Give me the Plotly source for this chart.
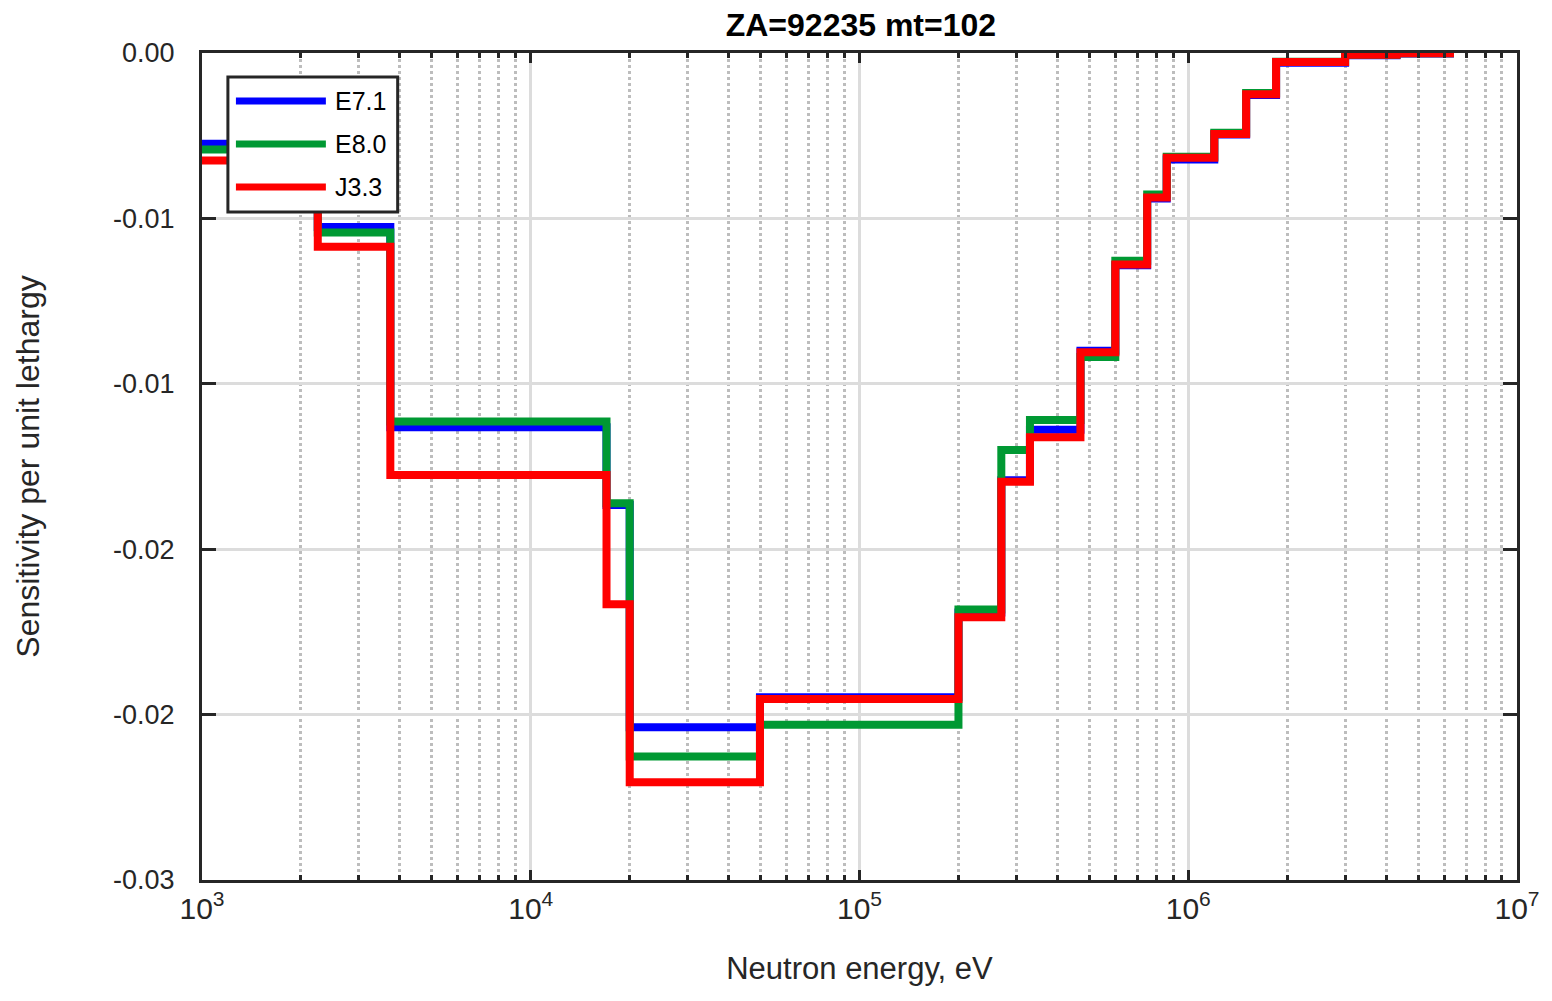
import plotly.graph_objects as go

# Group boundaries (eV)
edges = [1e3, 2.25e3, 3.74e3, 1.7e4, 2.0e4, 4.98e4, 2.0e5, 2.7e5, 3.3e5, 4.7e5,
         6.0e5, 7.5e5, 8.6e5, 1.2e6, 1.5e6, 1.85e6, 3.0e6, 4.3e6, 6.43e6]

series_names = ["E7.1", "E8.0", "J3.3"]
series_colors = ["#0000FF", "#009933", "#FF0000"]

e71 = [-0.00329, -0.00631, -0.01358, -0.0164, -0.02446, -0.02337, -0.0203, -0.0155,
       -0.01367, -0.0108, -0.0077, -0.00528, -0.00386, -0.00296, -0.00152, -0.00035,
       -0.00008, -0.00002]
e80 = [-0.0035, -0.00651, -0.01337, -0.01633, -0.02552, -0.02437, -0.02019, -0.0144,
       -0.01331, -0.01103, -0.00754, -0.00513, -0.00376, -0.00289, -0.00145, -0.00032,
       -0.00006, -0.00001]
j33 = [-0.0039, -0.00703, -0.01531, -0.02, -0.02645, -0.02343, -0.02047, -0.01555,
       -0.01394, -0.01086, -0.00767, -0.00524, -0.0038, -0.00294, -0.0015, -0.00033,
       -0.00006, -0.00001]

ytick_vals = [0, -0.006, -0.012, -0.018, -0.024, -0.03]
ytick_text = ["0.00", "-0.01", "-0.01", "-0.02", "-0.02", "-0.03"]
xtick_vals = [1e3, 1e4, 1e5, 1e6, 1e7]
xtick_text = ["10<sup>3</sup>", "10<sup>4</sup>", "10<sup>5</sup>", "10<sup>6</sup>", "10<sup>7</sup>"]

FONT = "Liberation Sans, Arial, sans-serif"
AX = "#262626"

fig = go.Figure()
for name, color, vals in zip(series_names, series_colors, [e71, e80, j33]):
    fig.add_trace(go.Scatter(
        x=edges, y=vals + [vals[-1]], mode="lines", name=name,
        line=dict(color=color, width=8, shape="hv"), showlegend=False,
    ))

# custom legend box (long line samples as in the reference)
shapes = [dict(type="rect", xref="paper", yref="paper", x0=0.0197, x1=0.1488,
               y0=0.8077, y1=0.971, line=dict(color=AX, width=3), fillcolor="white",
               layer="above")]
annotations = []
rows = [0.942, 0.890, 0.838]
for name, color, yy in zip(series_names, series_colors, rows):
    shapes.append(dict(type="line", xref="paper", yref="paper", x0=0.0258, x1=0.0942,
                       y0=yy, y1=yy, line=dict(color=color, width=7), layer="above"))
    annotations.append(dict(xref="paper", yref="paper", x=0.0995, y=yy, text=name,
                            showarrow=False, xanchor="left", yanchor="middle",
                            font=dict(family=FONT, size=25, color="black")))

fig.update_layout(
    width=1544, height=993,
    margin=dict(l=194, r=33, t=45, b=121),
    paper_bgcolor="white", plot_bgcolor="white",
    title=dict(text="<b>ZA=92235 mt=102</b>", x=0.5524, xanchor="center",
               y=0.983, yanchor="middle", yref="container",
               font=dict(family=FONT, size=32, color="black")),
    shapes=shapes, annotations=annotations,
    font=dict(family=FONT, color="#262626"),
)

fig.update_xaxes(
    type="log", range=[3, 7],
    tickmode="array", tickvals=xtick_vals, ticktext=xtick_text,
    tickfont=dict(family=FONT, size=30, color="#262626"),
    showline=True, linecolor=AX, linewidth=3, mirror="ticks",
    ticks="inside", ticklen=10, tickwidth=3, tickcolor=AX,
    showgrid=True, gridcolor="#dcdcdc", gridwidth=3,
    zeroline=False,
    minor=dict(ticks="inside", ticklen=5, tickwidth=3, tickcolor=AX,
               showgrid=True, gridcolor="#bdbdbd", gridwidth=3, griddash="dot",
               dtick="D1"),
    title=dict(text="Neutron energy, eV", standoff=34,
               font=dict(family=FONT, size=31, color="#262626")),
)
fig.update_yaxes(
    range=[-0.03, 0],
    tickmode="array", tickvals=ytick_vals, ticktext=ytick_text,
    tickfont=dict(family=FONT, size=27, color="#262626"),
    showline=True, linecolor=AX, linewidth=3, mirror="ticks",
    ticks="inside", ticklen=14, tickwidth=3, tickcolor=AX,
    showgrid=True, gridcolor="#dcdcdc", gridwidth=3,
    zeroline=False, ticklabelstandoff=19,
    title=dict(text="Sensitivity per unit lethargy", standoff=64,
               font=dict(family=FONT, size=32, color="#262626")),
)

fig.write_html("out.html")
